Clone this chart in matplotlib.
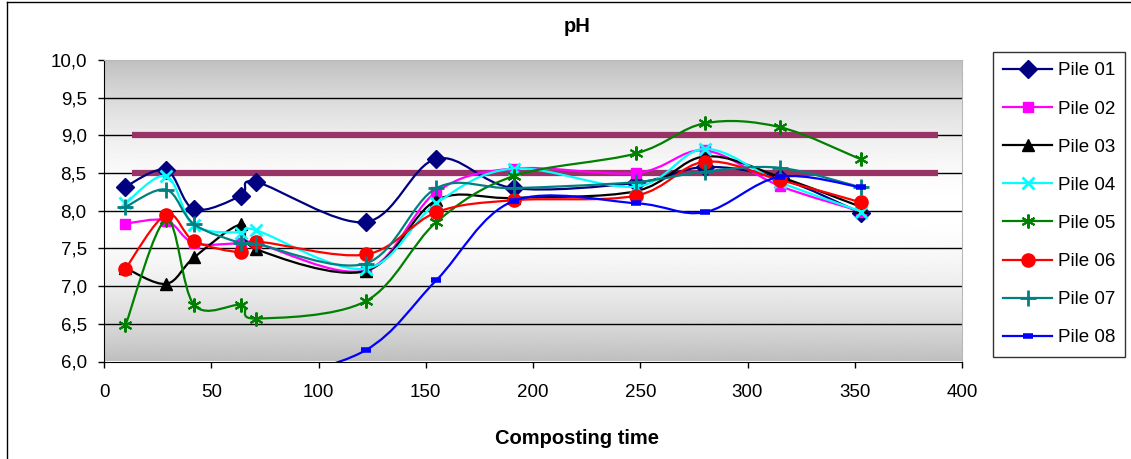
import numpy as np
import matplotlib
matplotlib.use("Agg")
import matplotlib.pyplot as plt
from matplotlib.path import Path
from matplotlib.patches import PathPatch
from matplotlib.lines import Line2D
from matplotlib.ticker import FuncFormatter

plt.rcParams['font.family'] = ['Liberation Sans', 'DejaVu Sans']

# composting days
days = [10, 29, 42, 64, 71, 122, 155, 191, 248, 280, 315, 353]

pile01 = [8.32, 8.54, 8.02, 8.20, 8.38, 7.85, 8.69, 8.30, 8.37, 8.58, 8.43, 7.97]
pile02 = [7.83, 7.87, 7.57, 7.57, 7.57, 7.21, 8.25, 8.56, 8.50, 8.80, 8.33, 7.99]
pile03 = [7.24, 7.03, 7.38, 7.82, 7.49, 7.20, 8.14, 8.17, 8.26, 8.72, 8.45, 8.05]
pile04 = [8.10, 8.46, 7.81, 7.71, 7.74, 7.23, 8.10, 8.56, 8.32, 8.82, 8.38, 7.99]
pile05 = [6.48, 7.88, 6.75, 6.75, 6.57, 6.80, 7.85, 8.46, 8.76, 9.16, 9.11, 8.68]
pile06 = [7.23, 7.95, 7.60, 7.45, 7.59, 7.42, 7.98, 8.14, 8.20, 8.65, 8.41, 8.11]
pile07 = [8.05, 8.28, 7.82, 7.57, 7.56, 7.30, 8.30, 8.30, 8.38, 8.52, 8.57, 8.31]
pile08 = [5.50, 5.55, 5.60, 5.65, 5.70, 6.15, 7.08, 8.13, 8.10, 7.98, 8.45, 8.31]

labels = ['Pile 01', 'Pile 02', 'Pile 03', 'Pile 04', 'Pile 05', 'Pile 06', 'Pile 07', 'Pile 08']
series = [pile01, pile02, pile03, pile04, pile05, pile06, pile07, pile08]

# reference band (pH 8.5 - 9.0)
limit_x = [13, 389]
limit_low = 8.5
limit_high = 9.0

colors = ['#000080', '#ff00ff', '#000000', '#00ffff', '#008000', '#ff0000', '#008080', '#0000ff']
markers = ['D', 's', '^', 'x', (6, 2, 0), 'o', '+', '_']
msizes = [9, 7.5, 9, 9, 10, 9.5, 11, 7]
mews = [1, 1, 1, 2, 1.5, 1, 2, 4]


def smooth_path(x, y):
    # excel-like smoothed line: cubic bezier segments (catmull-rom control points)
    p = np.column_stack([x, y]).astype(float)
    n = len(p)
    verts = [p[0]]
    codes = [Path.MOVETO]
    for i in range(n - 1):
        p0 = p[i - 1] if i > 0 else p[i]
        p3 = p[i + 2] if i + 2 < n else p[i + 1]
        c1 = p[i] + (p[i + 1] - p0) / 6
        c2 = p[i + 1] - (p3 - p[i]) / 6
        verts += [c1, c2, p[i + 1]]
        codes += [Path.CURVE4] * 3
    return Path(verts, codes)


fig = plt.figure(figsize=(11.31, 4.59), dpi=100)
ax = fig.add_axes([104 / 1131, 1 - 361.5 / 459, 858 / 1131, 301.5 / 459])

# gradient plot area background
t = np.linspace(-1, 1, 256)
shade = 1 - 0.25 * np.abs(t) ** 1.8
ax.imshow(shade[:, None], cmap='gray', vmin=0, vmax=1, aspect='auto',
          extent=[0, 400, 6, 10], zorder=0, interpolation='bilinear')

yticks = np.arange(6.0, 10.01, 0.5)
ax.hlines(yticks[1:-1], 0, 400, colors='black', lw=1, zorder=1)

ax.plot(limit_x, [limit_high, limit_high], color='#993366', lw=4.5, solid_capstyle='butt', zorder=2)
ax.plot(limit_x, [limit_low, limit_low], color='#993366', lw=4.5, solid_capstyle='butt', zorder=2)

handles = []
for i, (vals, lab) in enumerate(zip(series, labels)):
    patch = PathPatch(smooth_path(days, vals), facecolor='none', edgecolor=colors[i], lw=1.6, zorder=3 + i)
    ax.add_patch(patch)
    ax.plot(days, vals, ls='none', marker=markers[i], ms=msizes[i], color=colors[i],
            mfc=colors[i], mec=colors[i], mew=mews[i], zorder=3 + i)
    handles.append(Line2D([], [], color=colors[i], lw=1.6, marker=markers[i], ms=msizes[i],
                          mfc=colors[i], mec=colors[i], mew=mews[i], label=lab))

ax.set_xlim(0, 400)
ax.set_ylim(6, 10)
ax.set_xticks(np.arange(0, 401, 50))
ax.set_yticks(yticks)
ax.yaxis.set_major_formatter(FuncFormatter(lambda v, pos: f"{v:.1f}".replace('.', ',')))
ax.tick_params(axis='y', direction='out', length=4.5, width=1, labelsize=13.5, pad=8)
ax.tick_params(axis='x', direction='out', length=4, width=1, labelsize=13.5, pad=12)
for s in ['top', 'right']:
    ax.spines[s].set_color('#b8b8b8')
for s in ['left', 'bottom']:
    ax.spines[s].set_color('black')

fig.text(577 / 1131, 1 - 27 / 459, 'pH', ha='center', va='center', fontsize=14.5, fontweight='bold')
fig.text(577 / 1131, 1 - 438 / 459, 'Composting time', ha='center', va='center', fontsize=14.5,
         fontweight='bold')

leg = fig.legend(handles=handles, loc='upper left', bbox_to_anchor=(993 / 1131, 1 - 52 / 459),
                 fontsize=13.5, frameon=True, fancybox=False, handlelength=2.6, handletextpad=0.3,
                 labelspacing=1.12, borderpad=0.55, borderaxespad=0)
leg.get_frame().set_edgecolor('black')
leg.get_frame().set_linewidth(1)

# chart area border
fig.add_artist(Line2D([7 / 1131, 1], [1 - 2 / 459, 1 - 2 / 459], transform=fig.transFigure, color='black', lw=1))
fig.add_artist(Line2D([7 / 1131, 7 / 1131], [0, 1 - 2 / 459], transform=fig.transFigure, color='black', lw=1))

fig.savefig('out.png', dpi=100)
